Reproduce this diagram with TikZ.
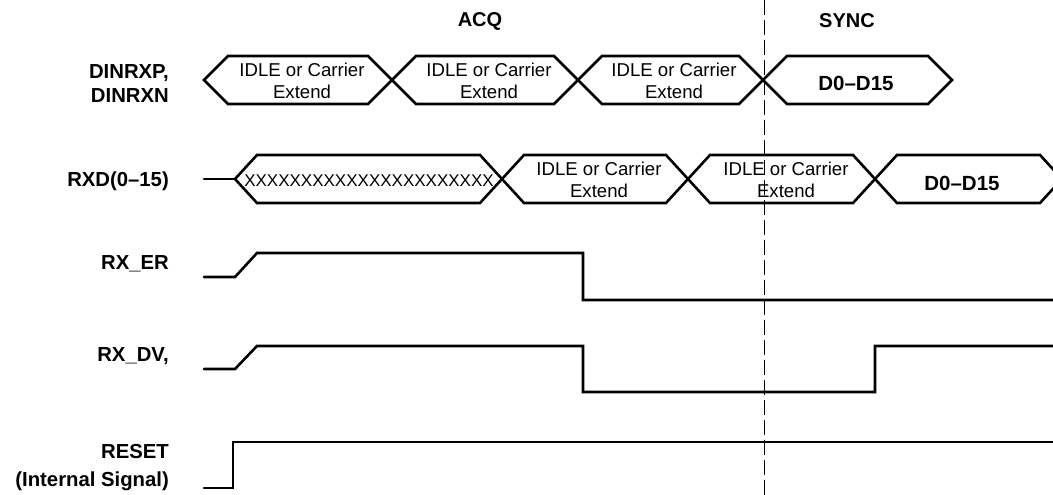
\documentclass[tikz,border=0pt]{standalone}
\usepackage{fontspec}
\setmainfont{Liberation Sans}
\begin{document}
\begin{tikzpicture}[x=1pt,y=-1pt,
  sig/.style={line width=2.6pt,line join=miter,line cap=round},
  lbl/.style={font=\fontsize{20.3}{22}\selectfont\bfseries,anchor=east,inner sep=0pt},
  hdr/.style={font=\fontsize{20}{22}\selectfont\bfseries,inner sep=0pt},
  bustxt/.style={font=\fontsize{18.6}{21.5}\selectfont,inner sep=0pt,align=center},
  busbold/.style={font=\fontsize{20.5}{22}\selectfont\bfseries,inner sep=0pt},
  xtxt/.style={font=\fontsize{17}{20}\selectfont,inner sep=0pt},
  marker/.style={line width=1pt,dash pattern=on 15pt off 5pt}]
\useasboundingbox (0,0) rectangle (1053,495);
\newcommand{\busseg}[5]{% x1 x2 ymid half slant
  \draw[sig] (#1,#3) -- (#1+#5,#3-#4) -- (#2-#5,#3-#4) -- (#2,#3) -- (#2-#5,#3+#4) -- (#1+#5,#3+#4) -- cycle;}
% headers
\node[hdr] (acq) at (480,21) {ACQ};
\node[hdr] (sync) at (847,21) {SYNC};
% phase marker
\coordinate (mtop) at (764,0);
\coordinate (mbot) at (764,495);
\draw[marker] (mtop) -- (mbot);
% labels
\node[lbl] (l1a) at (169,73) {DINRXP,};
\node[lbl] (l1b) at (169,96) {DINRXN};
\node[lbl] (l2) at (169,181) {RXD(0--15)};
\node[lbl] (l3) at (169,264) {RX\_ER};
\node[lbl] (l4) at (169,356) {RX\_DV,};
\node[lbl] (l5a) at (169,452) {RESET};
\node[lbl] (l5b) at (169,481) {(Internal Signal)};
% row 1 bus
\busseg{204}{392}{80}{24}{24}
\busseg{392}{578}{80}{24}{24}
\busseg{578}{763}{80}{24}{24}
\busseg{763}{952}{80}{24}{24}
\node[bustxt] (b1a) at (302,81) {IDLE or Carrier\\Extend};
\node[bustxt] (b1b) at (489,81) {IDLE or Carrier\\Extend};
\node[bustxt] (b1c) at (674,81) {IDLE or Carrier\\Extend};
\node[busbold] (b1d) at (856,83) {D0--D15};
% row 2 bus
\draw[sig] (204,179) -- (235,179);
\busseg{235}{502}{179}{24}{22}
\busseg{502}{688}{179}{24}{22}
\busseg{688}{875}{179}{24}{22}
\begin{scope}
\clip (0,0) rectangle (1053,495);
\busseg{875}{1062}{179}{24}{22}
\end{scope}
\node[xtxt] (b2x) at (369,181) {XXXXXXXXXXXXXXXXXXXXXX};
\node[bustxt] (b2b) at (599,180) {IDLE or Carrier\\Extend};
\node[bustxt] (b2c) at (786,180) {IDLE or Carrier\\Extend};
\node[busbold] (b2d) at (962,183) {D0--D15};
% RX_ER
\draw[sig] (204,277) -- (235,277) -- (257,253) -- (583,253) -- (583,300) -- (1053,300);
% RX_DV
\draw[sig] (204,369) -- (235,369) -- (257,346) -- (583,346) -- (583,392) -- (875,392) -- (875,346) -- (1053,346);
% RESET
\draw[sig] (204,488) -- (233,488) -- (233,442) -- (1053,442);
\end{tikzpicture}
\end{document}
